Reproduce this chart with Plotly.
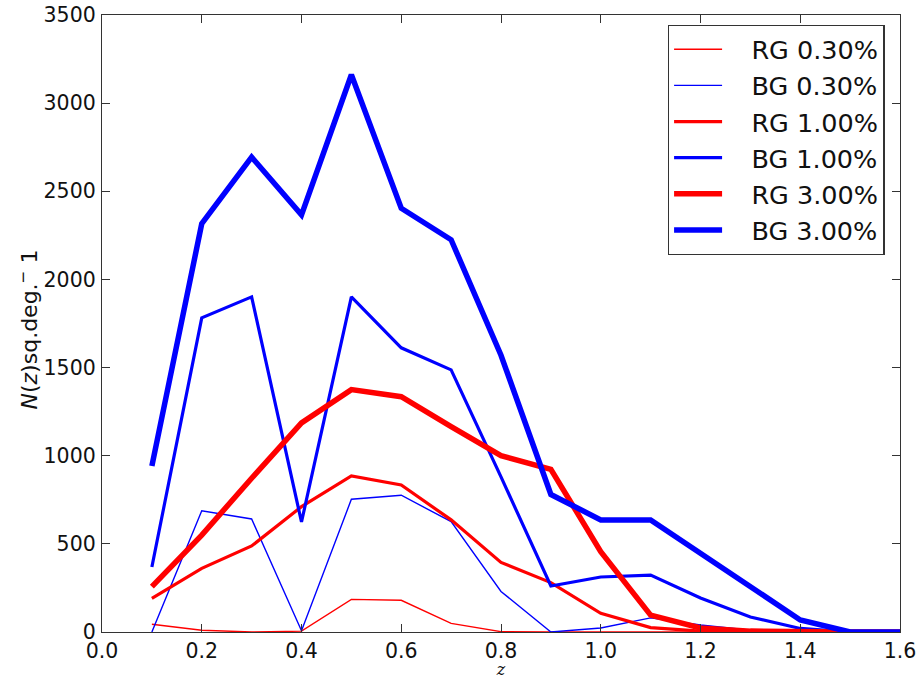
import plotly.graph_objects as go

z = [0.1, 0.2, 0.3, 0.4, 0.5, 0.6, 0.7, 0.8, 0.9, 1.0, 1.1, 1.2, 1.3, 1.4, 1.5, 1.6]

rg_030 = [44, 10, 0, 5, 185, 180, 49, 2, 0, 0, 0, 0, 0, 0, 0, 0]
bg_030 = [0, 688, 641, 7, 753, 776, 626, 230, 0, 23, 80, 40, 10, 0, 0, 0]
rg_100 = [191, 361, 488, 711, 885, 834, 636, 395, 280, 106, 25, 5, 0, 0, 0, 0]
bg_100 = [369, 1782, 1901, 624, 1901, 1612, 1487, 880, 261, 312, 323, 193, 85, 20, 0, 0]
rg_300 = [257, 550, 872, 1186, 1375, 1335, 1165, 1000, 923, 456, 96, 23, 5, 0, 0, 0]
bg_300 = [942, 2316, 2694, 2366, 3161, 2404, 2225, 1570, 780, 636, 636, 448, 255, 68, 0, 0]

series = [
    ("RG 0.30%", rg_030, "#ff0000", 1.4),
    ("BG 0.30%", bg_030, "#0000ff", 1.4),
    ("RG 1.00%", rg_100, "#ff0000", 3.2),
    ("BG 1.00%", bg_100, "#0000ff", 3.2),
    ("RG 3.00%", rg_300, "#ff0000", 5.5),
    ("BG 3.00%", bg_300, "#0000ff", 5.5),
]

x_ticks = [0.0, 0.2, 0.4, 0.6, 0.8, 1.0, 1.2, 1.4, 1.6]
x_tick_labels = ["0.0", "0.2", "0.4", "0.6", "0.8", "1.0", "1.2", "1.4", "1.6"]
y_ticks = [0, 500, 1000, 1500, 2000, 2500, 3000, 3500]
y_tick_labels = ["0", "500", "1000", "1500", "2000", "2500", "3000", "3500"]
y_title = "<i>N</i>(<i>z</i>)sq.deg.<sup>−</sup> 1"

PAD = "\u00a0\u00a0\u00a0"

fig = go.Figure()
for name, vals, color, w in series:
    fig.add_trace(go.Scatter(x=z, y=vals, mode="lines", name=PAD + name, legendgroup=name,
                             line=dict(color=color, width=w)))

axis_common = dict(
    showgrid=False, zeroline=False, showline=True, linecolor="#333333", linewidth=1.3,
    mirror="ticks", ticks="inside", ticklen=8, tickcolor="#333333", tickwidth=1,
    tickfont=dict(family="DejaVu Sans", size=20.5, color="#111111"),
    automargin=False, ticklabeloverflow="allow",
)

fig.update_layout(
    width=922, height=679,
    margin=dict(l=102, r=22, t=15, b=47),
    paper_bgcolor="white", plot_bgcolor="white",
    font=dict(family="DejaVu Sans", color="#111111"),
    xaxis=dict(range=[0, 1.6], tickvals=x_ticks, ticktext=x_tick_labels,
               title=dict(text="<i>z</i>", font=dict(size=16, family="DejaVu Serif")),
               **axis_common),
    yaxis=dict(range=[0, 3500], tickvals=y_ticks, ticktext=y_tick_labels,
               ticklabelstandoff=1, **axis_common),
    legend=dict(x=0.709, y=0.984, xanchor="left", yanchor="top",
                bordercolor="#333333", borderwidth=1.3, bgcolor="white",
                font=dict(family="DejaVu Sans", size=25.5, color="#111111"),
                itemwidth=48, tracegroupgap=0),
    showlegend=True,
)

fig.add_annotation(text=y_title, xref="paper", yref="paper", x=0, y=0.5,
                   xanchor="center", yanchor="middle", xshift=-75, yshift=-6,
                   textangle=-90, showarrow=False,
                   font=dict(family="DejaVu Sans", size=22, color="#111111"))

fig.write_html("out.html", config={"displayModeBar": False},
               post_script="document.body.style.margin='0';")
